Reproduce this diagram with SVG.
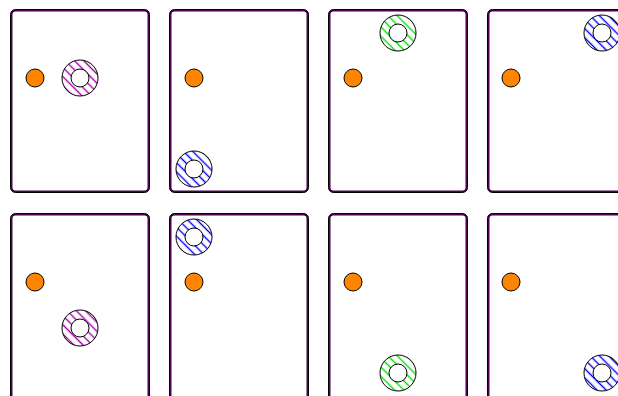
<svg xmlns="http://www.w3.org/2000/svg" width="618" height="396" viewBox="0 0 618 396">
<style>
.pO{fill:#fff;stroke:#4b0050;stroke-width:2}
.pI{fill:none;stroke:#000;stroke-width:1}
.dot{fill:#ff8400;stroke:#000;stroke-width:1}
.ring{stroke:#000;stroke-width:1}
.hole{fill:#fff;stroke:#000;stroke-width:1}
</style>
<defs>
<pattern id="hm" width="6.5" height="6.5" patternUnits="userSpaceOnUse" patternTransform="rotate(45)"><line x1="0" y1="3.25" x2="6.5" y2="3.25" stroke="#a000a8" stroke-width="1.4"/></pattern>
<pattern id="hb" width="6.5" height="6.5" patternUnits="userSpaceOnUse" patternTransform="rotate(45)"><line x1="0" y1="3.25" x2="6.5" y2="3.25" stroke="#0000ff" stroke-width="1.4"/></pattern>
<pattern id="hg" width="6.5" height="6.5" patternUnits="userSpaceOnUse" patternTransform="rotate(45)"><line x1="0" y1="3.25" x2="6.5" y2="3.25" stroke="#00e000" stroke-width="1.4"/></pattern>
<g id="frame">
<rect class="pO" x="11.5" y="10.5" width="137" height="181" rx="4"/>
<rect class="pI" x="10.5" y="9.5" width="139" height="183" rx="5"/>
</g>
<g id="frame2">
<rect class="pO" x="11.5" y="10.5" width="137" height="200" rx="4"/>
<rect class="pI" x="10.5" y="9.5" width="139" height="202" rx="5"/>
</g>
</defs>
<g id="panel-1">
<use href="#frame"/>
<circle class="dot" cx="35" cy="78" r="9"/>
<circle class="ring" fill="url(#hm)" cx="80" cy="78" r="18"/>
<circle class="hole" cx="80" cy="78" r="9"/>
</g>
<g id="panel-2">
<use href="#frame" x="159"/>
<circle class="dot" cx="194" cy="78" r="9"/>
<circle class="ring" fill="url(#hb)" cx="194" cy="169" r="18"/>
<circle class="hole" cx="194" cy="169" r="9"/>
</g>
<g id="panel-3">
<use href="#frame" x="318"/>
<circle class="dot" cx="353" cy="78" r="9"/>
<circle class="ring" fill="url(#hg)" cx="398" cy="33" r="18"/>
<circle class="hole" cx="398" cy="33" r="9"/>
</g>
<g id="panel-4">
<use href="#frame" x="477"/>
<circle class="dot" cx="511" cy="78" r="9"/>
<circle class="ring" fill="url(#hb)" cx="602" cy="33" r="18"/>
<circle class="hole" cx="602" cy="33" r="9"/>
</g>
<g id="panel-5">
<use href="#frame2" y="204"/>
<circle class="dot" cx="35" cy="282" r="9"/>
<circle class="ring" fill="url(#hm)" cx="80" cy="328" r="18"/>
<circle class="hole" cx="80" cy="328" r="9"/>
</g>
<g id="panel-6">
<use href="#frame2" x="159" y="204"/>
<circle class="dot" cx="194" cy="282" r="9"/>
<circle class="ring" fill="url(#hb)" cx="194" cy="237" r="18"/>
<circle class="hole" cx="194" cy="237" r="9"/>
</g>
<g id="panel-7">
<use href="#frame2" x="318" y="204"/>
<circle class="dot" cx="353" cy="282" r="9"/>
<circle class="ring" fill="url(#hg)" cx="398" cy="373" r="18"/>
<circle class="hole" cx="398" cy="373" r="9"/>
</g>
<g id="panel-8">
<use href="#frame2" x="477" y="204"/>
<circle class="dot" cx="511" cy="282" r="9"/>
<circle class="ring" fill="url(#hb)" cx="602" cy="373" r="18"/>
<circle class="hole" cx="602" cy="373" r="9"/>
</g>
<g id="connectors"/>
</svg>
